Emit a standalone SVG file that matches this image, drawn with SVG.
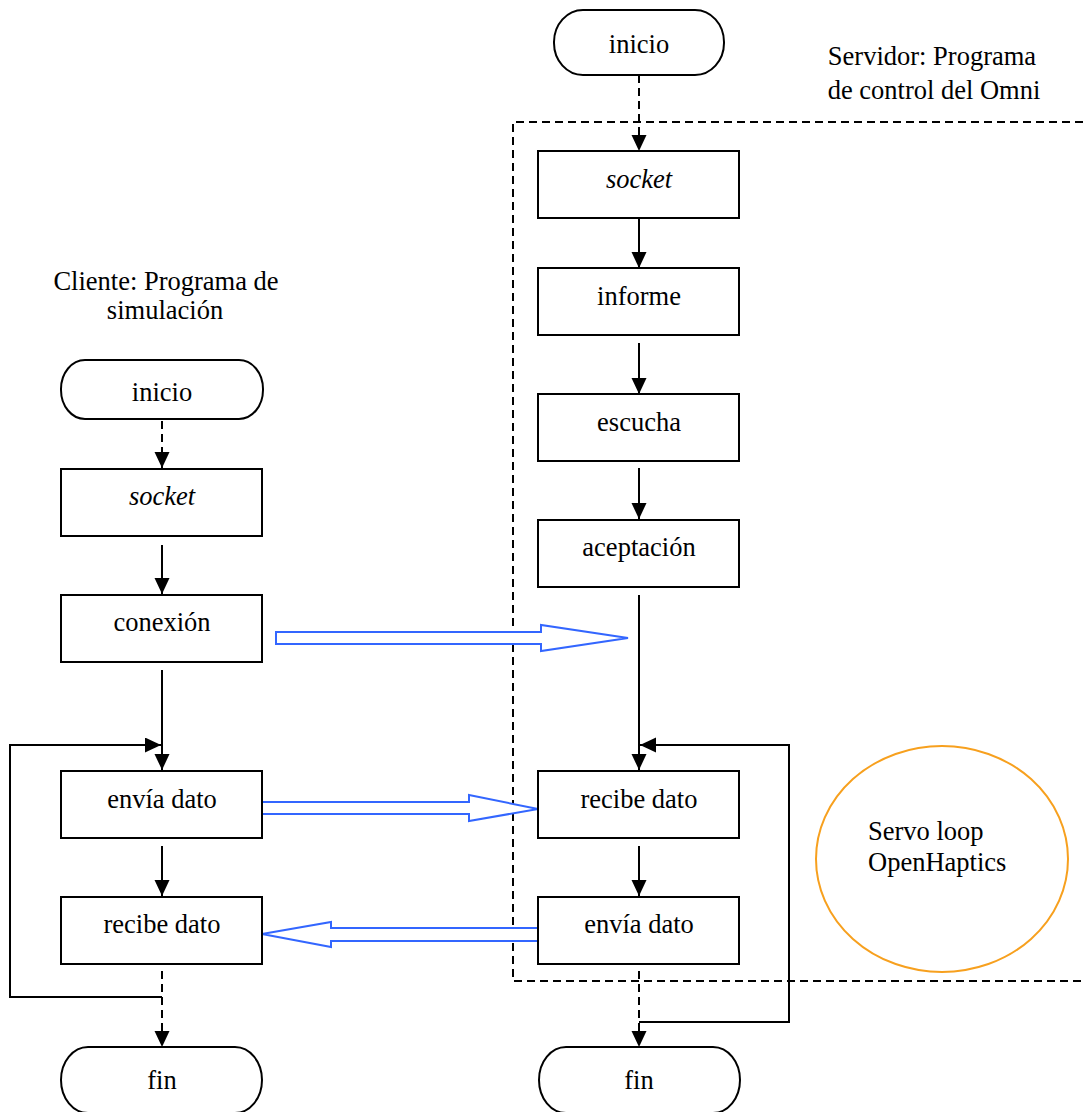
<svg xmlns="http://www.w3.org/2000/svg" width="1083" height="1112" viewBox="0 0 1083 1112">
  <style>
    .box { fill: #fff; stroke: #000; stroke-width: 2; }
    .term { fill: #fff; stroke: #000; stroke-width: 2; }
    .lbl { font-family: "Liberation Serif", "Times New Roman", serif; font-size: 26.5px; fill: #000; text-anchor: middle; }
    .it { font-style: italic; }
    .wire { fill: none; stroke: #000; stroke-width: 2; }
    .dash { fill: none; stroke: #000; stroke-width: 2; stroke-dasharray: 8 5; }
    .msg { fill: #fff; stroke: #3366FF; stroke-width: 2; stroke-linejoin: miter; }
    .servo { fill: #fff; stroke: #F7A01E; stroke-width: 2; }
  </style>
  <defs>
    <marker id="head" markerUnits="userSpaceOnUse" markerWidth="17" markerHeight="16" refX="16" refY="7.5" orient="auto">
      <path d="M0,0 L16,7.5 L0,15 z" fill="#000"/>
    </marker>
  </defs>

  <rect width="1083" height="1112" fill="#fff"/>

  <!-- server region boundary -->
  <polyline class="dash" points="1083,122 513,122 513,981 1083,981"/>

  <!-- captions -->
  <g id="caption-client">
    <text class="lbl" x="166" y="290">Cliente: Programa de</text>
    <text class="lbl" x="165" y="319">simulación</text>
  </g>
  <g id="caption-server">
    <text class="lbl" x="932" y="65">Servidor: Programa</text>
    <text class="lbl" x="934" y="99">de control del Omni</text>
  </g>

  <!-- servo loop -->
  <g id="servo-loop">
    <ellipse class="servo" cx="942" cy="859" rx="126" ry="113"/>
    <text class="lbl" x="868" y="840" style="text-anchor:start">Servo loop</text>
    <text class="lbl" x="868" y="871" style="text-anchor:start">OpenHaptics</text>
  </g>

  <!-- connectors -->
  <g id="connectors">
    <!-- client flow -->
    <line class="dash" x1="162" y1="421" x2="162" y2="468" marker-end="url(#head)"/>
    <line class="wire" x1="162" y1="545" x2="162" y2="594" marker-end="url(#head)"/>
    <line class="wire" x1="162" y1="670" x2="162" y2="770" marker-end="url(#head)"/>
    <line class="wire" x1="162" y1="846" x2="162" y2="896" marker-end="url(#head)"/>
    <line class="dash" x1="162" y1="971" x2="162" y2="1047" marker-end="url(#head)"/>
    <polyline class="wire" points="162,997 10,997 10,745 161,745" marker-end="url(#head)"/>

    <!-- server flow -->
    <line class="dash" x1="639" y1="75" x2="639" y2="151" marker-end="url(#head)"/>
    <line class="wire" x1="639" y1="218" x2="639" y2="268" marker-end="url(#head)"/>
    <line class="wire" x1="639" y1="343" x2="639" y2="394" marker-end="url(#head)"/>
    <line class="wire" x1="639" y1="468" x2="639" y2="519" marker-end="url(#head)"/>
    <line class="wire" x1="639" y1="595" x2="639" y2="770" marker-end="url(#head)"/>
    <line class="wire" x1="639" y1="846" x2="639" y2="896" marker-end="url(#head)"/>
    <line class="dash" x1="639" y1="971" x2="639" y2="1047" marker-end="url(#head)"/>
    <polyline class="wire" points="639,1022 789,1022 789,745 640,745" marker-end="url(#head)"/>

    <!-- messages between programs -->
    <polygon class="msg" points="276,632 541,632 541,625 628,638 541,651 541,644 276,644"/>
    <polygon class="msg" points="262,802 469,802 469,795 538,809 469,821 469,814 262,814"/>
    <polygon class="msg" points="538,928 331,928 331,922 262,934 331,947 331,941 538,941"/>
  </g>

  <!-- client nodes -->
  <g id="c-inicio">
    <rect class="term" x="61" y="360" width="202" height="59" rx="24" ry="29"/>
    <text class="lbl" x="162" y="401">inicio</text>
  </g>
  <g id="c-socket">
    <rect class="box" x="61" y="469" width="201" height="67"/>
    <text class="lbl it" x="162" y="505">socket</text>
  </g>
  <g id="c-conexion">
    <rect class="box" x="61" y="595" width="201" height="67"/>
    <text class="lbl" x="162" y="631">conexión</text>
  </g>
  <g id="c-envia">
    <rect class="box" x="61" y="771" width="201" height="67"/>
    <text class="lbl" x="162" y="808">envía dato</text>
  </g>
  <g id="c-recibe">
    <rect class="box" x="61" y="897" width="201" height="67"/>
    <text class="lbl" x="162" y="933">recibe dato</text>
  </g>
  <g id="c-fin">
    <rect class="term" x="61" y="1047" width="201" height="66" rx="27" ry="33"/>
    <text class="lbl" x="162" y="1089">fin</text>
  </g>

  <!-- server nodes -->
  <g id="s-inicio">
    <rect class="term" x="554" y="10" width="170" height="65" rx="29" ry="32"/>
    <text class="lbl" x="639" y="53">inicio</text>
  </g>
  <g id="s-socket">
    <rect class="box" x="538" y="151" width="201" height="67"/>
    <text class="lbl it" x="639" y="188">socket</text>
  </g>
  <g id="s-informe">
    <rect class="box" x="538" y="268" width="201" height="67"/>
    <text class="lbl" x="639" y="305">informe</text>
  </g>
  <g id="s-escucha">
    <rect class="box" x="538" y="394" width="201" height="67"/>
    <text class="lbl" x="639" y="431">escucha</text>
  </g>
  <g id="s-aceptacion">
    <rect class="box" x="538" y="520" width="201" height="67"/>
    <text class="lbl" x="639" y="556">aceptación</text>
  </g>
  <g id="s-recibe">
    <rect class="box" x="538" y="771" width="201" height="67"/>
    <text class="lbl" x="639" y="808">recibe dato</text>
  </g>
  <g id="s-envia">
    <rect class="box" x="538" y="897" width="201" height="67"/>
    <text class="lbl" x="639" y="933">envía dato</text>
  </g>
  <g id="s-fin">
    <rect class="term" x="539" y="1047" width="201" height="66" rx="27" ry="33"/>
    <text class="lbl" x="639" y="1089">fin</text>
  </g>
</svg>
